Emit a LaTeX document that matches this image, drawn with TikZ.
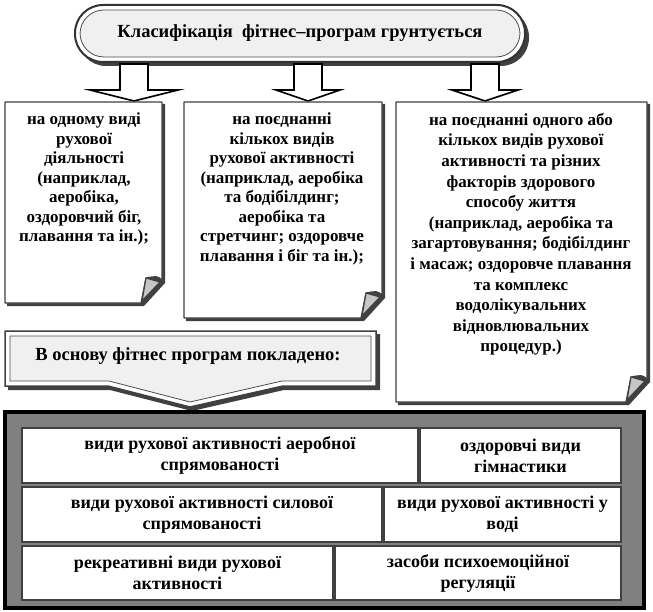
\documentclass[tikz,border=0pt]{standalone}
\usepackage{fontspec}
\setmainfont{Liberation Serif}
\usetikzlibrary{calc}
\definecolor{PaleClr}{HTML}{F0F0F0}
\definecolor{EdgeClr}{HTML}{404040}
\definecolor{FrameClr}{HTML}{808080}

% page with curled corner: x1, y1, x2, y2
\newcommand{\curlbox}[4]{%
  \fill[EdgeClr] ({#1+2},{#2+2}) -- ({#3+3},{#2+2}) -- ({#3+3},{#4-20}) -- ({#3-18},{#4+3}) -- ({#1+2},{#4+3}) -- cycle;
  \draw[pageline] (#1,#2) -- (#3,#2) -- (#3,{#4-23}) .. controls ({#3-5},{#4-27}) .. ({#3-16},{#4-25}) -- ({#3-21},#4) -- (#1,#4) -- cycle;
  \draw[curlline] ({#3-16},{#4-25}) -- ({#3-2},{#4-21}) -- ({#3-20},{#4-2}) -- cycle;
}

\begin{document}
\begin{tikzpicture}[x=1pt,y=-1pt,
  txt/.style={font=\fontsize{17}{19.5}\selectfont\bfseries, align=center, inner sep=0pt},
  bigtxt/.style={txt, font=\fontsize{18.5}{21}\selectfont\bfseries},
  celltxt/.style={txt, font=\fontsize{18}{21}\selectfont\bfseries},
  pageline/.style={draw=EdgeClr, line width=1.2pt, fill=white, line join=round},
  curlline/.style={draw=EdgeClr, line width=1.2pt, fill=gray!45, line join=round},
  blockarrow/.style={draw=black, line width=1.6pt, fill=white, line join=miter},
  cell/.style={draw=EdgeClr, line width=1.5pt, fill=white}]
\useasboundingbox (0,0) rectangle (653,612);

% title
\fill[EdgeClr, rounded corners=28pt] (78,9) rectangle (529,66);
\draw[black!80, line width=2pt, fill=white, rounded corners=28pt] (75,5) rectangle (525,62);
\draw[black!70, line width=0.8pt, fill=PaleClr, rounded corners=24pt] (80,10) rectangle (520,57);
\node[bigtxt] (title) at (300,33) {Класифікація \ фітнес–програм грунтується};

% arrows
\foreach \cx/\hw in {134/44, 308/32, 485/33}
  \draw[blockarrow] (\cx-14,64) -- (\cx+14,64) -- (\cx+14,90) -- (\cx+\hw,90)
    -- (\cx,101) -- (\cx-\hw,90) -- (\cx-14,90) -- cycle;

% three kinds
\curlbox{5}{102}{162}{303}
\curlbox{184}{102}{382}{318}
\curlbox{396}{102}{647}{402}
\node[txt, anchor=north] (kind1) at (84,113) {на одному виді\\рухової\\діяльності\\(наприклад,\\аеробіка,\\оздоровчий біг,\\плавання та ін.);};
\node[txt, anchor=north] (kind2) at (282,113) {на поєднанні\\кількох видів\\рухової активності\\(наприклад, аеробіка\\та бодібілдинг;\\аеробіка та\\стретчинг; оздоровче\\плавання і біг та ін.);};
\node[txt, font=\fontsize{17}{20.6}\selectfont\bfseries, anchor=north] (kind3) at (521,113) {на поєднанні одного або\\кількох видів рухової\\активності та різних\\факторів здорового\\способу життя\\(наприклад, аеробіка та\\загартовування; бодібілдинг\\і масаж; оздоровче плавання\\та комплекс\\водолікувальних\\відновлювальних\\процедур.)};

% basis callout
\fill[EdgeClr] (8,334) -- (380,334) -- (380,390) -- (284,390) -- (192,411) -- (110,390) -- (8,390) -- cycle;
\draw[EdgeClr, line width=1.5pt, fill=white] (5,331) -- (376,331) -- (376,386) -- (283,386) -- (190,407) -- (108,386) -- (5,386) -- cycle;
\draw[black!70, line width=0.8pt, fill=PaleClr] (10,336) -- (371,336) -- (371,381) -- (282,381) -- (190,402) -- (109,381) -- (10,381) -- cycle;
\node[bigtxt] (basis) at (188,356) {В основу фітнес програм покладено:};

% bottom frame
\draw[black, line width=3.5pt, fill=FrameClr] (5,412) rectangle (644,608);
\draw[cell] (22,428) rectangle (418,483);
\draw[cell] (420,428) rectangle (621,483);
\draw[cell] (22,487) rectangle (382,542);
\draw[cell] (384,487) rectangle (621,542);
\draw[cell] (22,546) rectangle (333,600);
\draw[cell] (335,546) rectangle (621,600);
\node[celltxt] (aero) at (220,455.5) {види рухової активності аеробної\\спрямованості};
\node[celltxt] (gym) at (520.5,455.5) {оздоровчі види\\гімнастики};
\node[celltxt] (power) at (202,514.5) {види рухової активності силової\\спрямованості};
\node[celltxt] (water) at (502.5,514.5) {види рухової активності у\\воді};
\node[celltxt] (recr) at (177.5,573) {рекреативні види рухової\\активності};
\node[celltxt] (psych) at (478,573) {засоби психоемоційної\\регуляції};
\end{tikzpicture}
\end{document}
